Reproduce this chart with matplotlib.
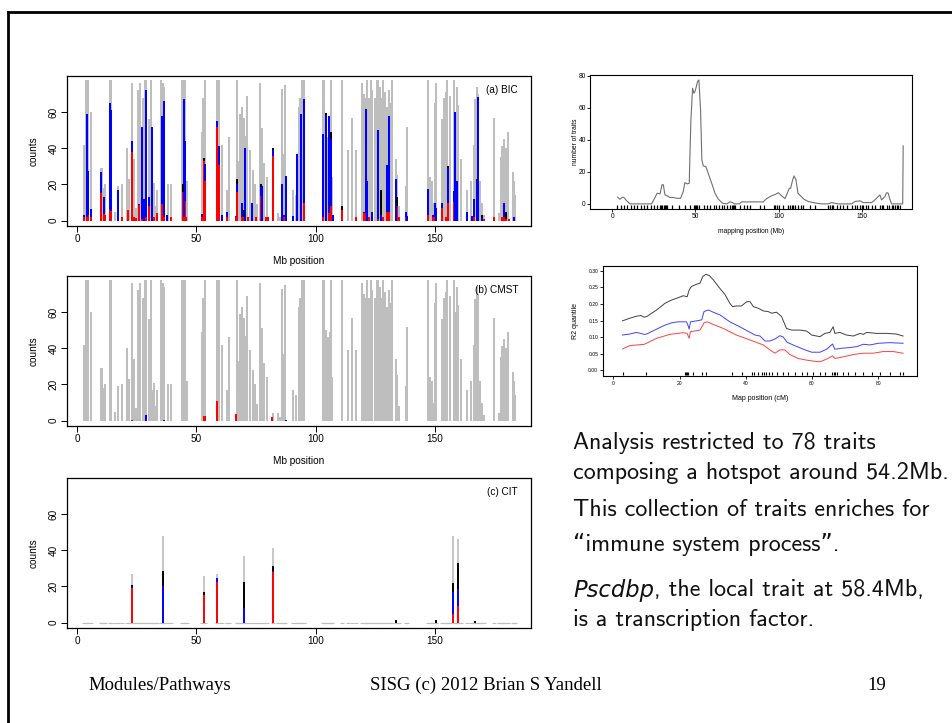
import matplotlib
matplotlib.use('Agg')
import matplotlib.pyplot as plt
from matplotlib.lines import Line2D
import numpy as np

# ---------------- data ----------------
# total counts (grey bars) shared by panels (a) and (b)
grey_pos = [2.7, 3.8, 4.5, 5.6, 9.8, 10.5, 11.1, 11.8, 13.7, 14.3, 16.0, 17.1, 18.7, 21.0, 21.7,
            22.9, 23.6, 24.6, 25.5, 26.2, 26.4, 27.6, 28.3, 29.0, 29.9, 30.8, 31.5, 32.2, 32.9,
            33.6, 35.3, 36.0, 36.5, 38.2, 39.5, 44.1, 44.8, 45.3, 46.2, 52.5, 52.9, 53.6, 58.5,
            59.5, 60.9, 62.8, 63.7, 67.0, 67.7, 68.3, 69.3, 69.8, 70.5, 71.4, 72.5, 73.7, 74.6,
            75.4, 76.8, 77.4, 78.5, 79.5, 81.9, 84.4, 85.1, 85.9, 86.5, 87.3, 90.5, 91.7, 92.9,
            93.6, 94.4, 95.0, 103.0, 103.5, 104.5, 105.1, 105.8, 106.5, 106.9, 111.2, 113.6,
            115.3, 117.0, 119.6, 120.3, 121.2, 121.7, 122.4, 123.1, 123.8, 124.9, 125.6, 126.3,
            126.9, 127.6, 128.2, 129.0, 129.8, 130.7, 131.2, 131.9, 133.5, 134.2, 134.9, 137.8,
            138.5, 147.2, 147.9, 148.6, 149.3, 149.9, 150.4, 152.8, 153.8, 154.5, 155.2, 156.3,
            157.8, 158.5, 159.1, 159.8, 160.8, 163.3, 165.1, 166.4, 166.8, 167.5, 168.2, 168.9,
            169.7, 170.7, 174.8, 176.7, 177.6, 178.3, 179.1, 179.8, 180.5, 182.6, 183.3, 183.7]
grey_cnt = [42, 78, 78, 60, 29, 29, 18, 20, 78, 78, 5, 19, 20, 40, 23,
            76, 34, 7, 72, 76, 27, 68, 78, 78, 56, 78, 17, 21, 8,
            17, 78, 76, 74, 20, 20, 78, 78, 78, 22, 49, 68, 78, 78,
            78, 42, 17, 46, 78, 33, 59, 63, 57, 47, 69, 39, 28, 20,
            9, 76, 51, 32, 24, 4, 4, 2, 73, 37, 75, 17, 14, 63,
            68, 78, 78, 78, 78, 50, 46, 49, 78, 24, 78, 39,
            57, 39, 76, 70, 68, 78, 68, 78, 72, 68, 78, 78,
            74, 68, 78, 71, 63, 72, 65, 78, 34, 25, 8, 19,
            52, 78, 24, 22, 10, 65, 76, 56, 68, 71, 78, 69,
            78, 60, 74, 64, 34, 17, 22, 42, 67, 74, 70, 22,
            10, 3, 57, 4, 35, 41, 45, 40, 49, 27, 22, 14]

# panel (a) BIC: red / blue / black stacked segments
a_pos = [2.7, 4.1, 4.5, 5.6, 10.1, 11.1, 11.8, 13.6, 14.1, 17.1, 18.9, 21.1, 22.9, 23.6, 24.6,
         25.7, 27.0, 28.1, 28.8, 30.2, 31.3, 32.0, 33.6, 35.4, 36.2, 37.8, 39.5, 44.2, 44.8,
         45.3, 45.8, 52.5, 53.1, 53.7, 58.5, 59.5, 60.7, 62.8, 66.6, 66.9, 69.3, 69.8, 70.5,
         71.6, 73.3, 74.9, 77.0, 77.5, 79.1, 80.0, 81.9, 85.9, 86.5, 87.7, 90.5, 92.3, 93.7,
         94.9, 103.0, 104.2, 105.4, 106.3, 107.3, 111.2, 117.1, 120.1, 121.3, 121.7, 122.4,
         123.8, 126.2, 127.6, 128.2, 130.1, 130.8, 133.5, 134.2, 134.9, 137.8, 138.5, 147.2,
         149.3, 149.9, 150.4, 152.8, 154.5, 155.3, 157.8, 158.5, 159.1, 163.6, 165.4, 166.4,
         167.5, 168.0, 169.7, 170.5, 174.8, 178.3, 179.1, 179.8, 181.0, 183.3]
a_red = [2, 2, 3, 2, 15, 3.5, 3, 6, 5.5, 0, 2, 6, 38, 2, 1.5,
         8.5, 1, 0, 2, 8, 0, 2, 4, 9, 2, 0, 2, 16, 2,
         11, 2, 2, 33, 22, 52, 31, 0, 2, 2, 16, 2, 2, 0,
         2, 0, 2, 13.5, 0, 2, 2, 36, 0, 2, 0, 0, 0, 0,
         9.5, 2, 0, 4, 8, 0, 6, 2, 4, 4, 0, 2,
         0, 1, 0, 2, 5, 5, 0, 8, 2, 2, 0, 3,
         2, 2, 0, 7, 2, 10, 10.5, 0, 0, 0, 0, 2,
         0, 0, 0, 1, 2, 2, 2, 1, 1, 0]
a_blue = [1, 57, 24.5, 4.5, 12, 9.5, 0, 59, 55.5, 17, 0, 0, 6, 0, 0,
          0.5, 51, 12, 70, 5, 52, 0, 0, 49, 64, 2.5, 0, 0, 65.5,
          33, 0, 1.5, 0, 9.5, 3, 10, 3, 3, 0.5, 4.5, 7.5, 0, 40,
          0, 9.5, 0, 5, 19, 0, 0, 3, 20.5, 1, 24.5, 2.5, 37, 59,
          58, 46, 58.5, 54, 37, 3, 0, 0, 1, 57, 22, 0,
          5, 49, 3, 0, 25.7, 53, 23, 0, 0, 2.5, 2.5, 14.5,
          1, 8, 7, 3, 0, 19, 6, 60, 22, 5, 2.5, 10,
          22, 68.5, 1.5, 0, 0, 0, 8, 0, 0, 2]
a_black = [0, 0, 0, 0, 0, 0, 0, 0, 0, 0, 0, 0, 0, 0, 0,
           0, 0, 0, 0, 0, 0, 0, 0, 0, 0, 0.8, 0, 4, 0,
           0, 0, 0, 1.5, 0, 0, 0, 0, 0, 0, 2.5, 0, 4, 0,
           0, 0, 0, 1.5, 0, 0, 0, 1, 0, 0, 0, 0, 0, 0,
           0, 0, 1, 0, 4, 0, 2, 0, 0, 1, 0, 0,
           0, 0, 14, 0, 0, 0, 0, 5, 0, 0, 0, 0,
           0, 0, 0, 0, 0, 1, 0, 0, 0, 0, 0, 0,
           1, 0, 1.5, 0, 0, 0, 0, 3.5, 0, 0]

# panel (b) CMST
b_pos = [22.9, 29.0, 36.4, 53.2, 53.6, 58.5, 66.7, 81.7, 87.7]
b_red = [0.5, 0, 0, 2.5, 2.5, 11, 3.5, 2, 0]
b_blue = [0, 3, 0.5, 0, 0, 0, 0, 0, 0.5]
b_black = [0, 0, 0, 0, 0, 0, 0, 0, 0]

# panel (c) CIT
c_grey_pos = [22.9, 36.0, 53.1, 58.5, 69.8, 81.9, 157.7, 159.5]
c_grey_cnt = [27, 48, 26, 27, 37, 41, 48, 46]
c_pos = [22.9, 36.0, 53.1, 58.5, 69.8, 81.9, 157.7, 159.5, 133.5, 150.4, 166.8]
c_red = [19, 0, 15, 22.5, 0, 28, 4.5, 9, 0, 0, 0]
c_blue = [0.5, 20, 0, 2, 8, 0.5, 12.5, 9.5, 0, 0, 0]
c_black = [1.5, 8.5, 2, 0, 14.5, 3, 5, 14.5, 1.5, 1.5, 1]

# top-right: number of traits vs mapping position
hs_pos = [3.2, 4.6, 6.2, 7.0, 8.6, 10.6, 23.7, 25.7, 27.0, 28.7, 29.9, 30.7, 31.7, 33.1, 34.7,
          36.7, 38.7, 41.1, 42.7, 43.7, 45.1, 46.3, 46.7, 47.3, 48.3, 49.1, 49.7, 50.3, 51.3,
          52.1, 53.1, 53.9, 54.7, 56.3, 57.7, 59.8, 61.8, 63.8, 66.4, 68.8, 70.8, 72.4, 73.4,
          76.4, 77.8, 82.8, 88.8, 90.8, 92.8, 95.8, 97.9, 99.9, 101.9, 103.9, 105.3, 106.5,
          107.3, 108.5, 109.3, 110.5, 111.7, 113.3, 115.3, 117.9, 120.9, 122.9, 125.9, 129.9,
          131.9, 134.0, 136.0, 144.0, 146.0, 149.0, 151.0, 156.0, 158.0, 160.0, 161.0, 162.0,
          164.0, 165.0, 166.0, 167.0, 168.0, 174.0, 174.7, 175.0]
hs_cnt = [4.2, 2.9, 4.2, 4.0, 2.0, 0, 0, 4, 6.7, 6.3, 11.9, 12, 5.6, 5, 4,
          4, 3.5, 3.5, 7.7, 13.3, 12.5, 12.9, 29.6, 52.5, 72.3, 69.2, 70.2, 72.3, 76.5,
          77.5, 58.8, 27.5, 23.8, 23.3, 19.2, 12.9, 6.7, 2.9, 0.4, 0, 1.25, 0.8, 0,
          0, 1.25, 1.25, 1.25, 1.25, 3.3, 5, 5.8, 7, 5, 3.3, 6.7, 9.8,
          9.8, 15, 17.5, 15, 6.7, 5, 2.9, 1.5, 0.8, 0.4, 0, 0,
          0.8, 0.4, 0, 0, 1.5, 1.9, 0.8, 0.8, 2.5, 4.6, 5.6, 2.5,
          4.6, 7, 6.7, 2.9, 0, 0, 0, 36.3]
hs_rug = [3, 5, 7, 9, 11, 13, 15, 17, 19, 21, 23, 25, 27, 28.5, 29.5, 30.2, 31, 31.8, 32.5, 33.2,
          36, 40, 44, 47, 49, 49.8, 50.5, 51.2, 52, 55, 57, 59, 61, 62.5, 64, 66, 67.5, 69,
          71, 71.8, 72.5, 73.2, 74, 77, 79, 81, 83, 89, 91, 97, 98, 99, 100, 103, 106, 107,
          108, 109, 110, 112, 113.5, 115, 119, 122, 130, 131, 132, 133, 135, 137, 139, 141,
          144, 146, 147.5, 149, 150, 151, 152.5, 154, 156, 158, 161, 162, 163, 165, 166.5,
          168, 169, 170, 171, 172, 173]

# bottom-right: R2 quantiles vs map position
q_cm_k = [2.8, 5.0, 7.0, 8.3, 9.4, 10.1, 13.1, 15.6, 17.6, 19.6, 21.1, 22.3, 22.9, 23.6, 25.2,
          26.2, 27.0, 28.0, 29.0, 30.2, 32.2, 33.7, 35.2, 36.0, 37.2, 38.7, 40.3, 41.3, 42.3,
          43.8, 45.3, 46.8, 47.8, 49.3, 50.8, 52.3, 53.8, 56.4, 58.4, 59.9, 61.4, 62.4, 63.9,
          65.4, 66.4, 66.9, 68.4, 70.4, 72.5, 74.5, 75.5, 76.5, 79.5, 82.5, 85.5, 87.5]
q_hi = [0.149, 0.157, 0.163, 0.165, 0.160, 0.162, 0.182, 0.202, 0.212, 0.219, 0.225, 0.222,
        0.242, 0.253, 0.260, 0.263, 0.283, 0.290, 0.286, 0.273, 0.247, 0.229, 0.202, 0.192,
        0.194, 0.194, 0.207, 0.207, 0.192, 0.187, 0.179, 0.177, 0.172, 0.175, 0.162, 0.126,
        0.121, 0.121, 0.118, 0.106, 0.103, 0.101, 0.111, 0.114, 0.131, 0.111, 0.114, 0.106,
        0.103, 0.111, 0.108, 0.114, 0.111, 0.111, 0.109, 0.103]
q_cm_b = [2.8, 5.0, 7.0, 9.4, 10.1, 13.1, 15.6, 17.6, 19.6, 22.1, 22.6, 22.9, 23.3, 25.2, 26.7,
          27.4, 28.7, 30.2, 32.2, 35.2, 38.2, 41.3, 42.8, 44.3, 45.8, 47.3, 48.8, 50.3, 51.3,
          52.5, 54.3, 57.4, 59.9, 62.4, 64.4, 66.2, 66.9, 68.9, 71.4, 73.5, 75.5, 77.5, 80.0,
          83.5, 87.5]
q_mid = [0.106, 0.109, 0.114, 0.108, 0.109, 0.124, 0.136, 0.143, 0.146, 0.146, 0.134, 0.124,
         0.146, 0.149, 0.152, 0.177, 0.182, 0.175, 0.167, 0.146, 0.131, 0.114, 0.106, 0.103,
         0.088, 0.088, 0.094, 0.104, 0.100, 0.084, 0.076, 0.063, 0.054, 0.054, 0.063, 0.079,
         0.063, 0.066, 0.068, 0.071, 0.078, 0.076, 0.081, 0.083, 0.081]
q_cm_r = [2.8, 5.0, 9.4, 13.1, 17.1, 21.1, 22.3, 22.9, 23.3, 26.2, 27.4, 28.4, 30.2, 33.2,
          37.2, 41.3, 45.3, 47.3, 48.8, 50.3, 51.8, 53.3, 55.8, 58.4, 60.4, 62.4, 64.4, 66.2,
          66.9, 69.4, 72.5, 75.5, 78.5, 81.5, 84.5, 87.5]
q_lo = [0.064, 0.074, 0.078, 0.096, 0.108, 0.113, 0.111, 0.096, 0.116, 0.121, 0.143, 0.146,
        0.138, 0.126, 0.106, 0.091, 0.076, 0.061, 0.051, 0.061, 0.061, 0.047, 0.035, 0.030,
        0.027, 0.025, 0.033, 0.043, 0.035, 0.040, 0.047, 0.051, 0.051, 0.056, 0.056, 0.051]
q_rug = [3, 10, 21.6, 22, 22.3, 22.6, 24, 26.7, 28, 35.7, 39, 41.8, 42.5, 43.8, 44.8, 45.5,
         46.2, 47, 47.8, 49.3, 51.3, 52.8, 54.8, 56.9, 58.4, 60.4, 62.4, 64, 66, 66.5, 67,
         67.4, 69.4, 71, 73, 75.5, 78, 80.5, 83.5, 86.5, 87.5]

# slide text
text_lines = ["Analysis restricted to 78 traits", "composing a hotspot around 54.2Mb.",
              "This collection of traits enriches for", "\u201cimmune system process\u201d."]
italic_word = "Pscdbp"
after_italic = ", the local trait at 58.4Mb,"
last_line = "is a transcription factor."
footer = ["Modules/Pathways", "SISG (c) 2012 Brian S Yandell", "19"]

# ---------------- figure ----------------
W, H = 952, 723
fig = plt.figure(figsize=(W / 100, H / 100), dpi=100)
fig.patch.set_facecolor('white')

def ax_px(x0, y0, x1, y1):
    return fig.add_axes([x0 / W, 1 - y1 / H, (x1 - x0) / W, (y1 - y0) / H])

RF = 'Liberation Sans'
FS_MAIN = 7.2

def stacked(ax, pos, red, blue, black, lw=1.45):
    pos = np.asarray(pos, float); r = np.asarray(red, float)
    b = np.asarray(blue, float); k = np.asarray(black, float)
    for lo, hi, col in [(0 * r, r, 'red'), (r, r + b, 'blue'), (r + b, r + b + k, 'black')]:
        m = hi > lo
        lc = ax.vlines(pos[m], lo[m], hi[m], color=col, lw=lw)
        lc.set_capstyle('butt')

def rstyle_main(ax, label, xlabel=True):
    ax.set_xlim(-4.3, 190.3)
    ax.set_ylim(-3.0, 80.0)
    ax.set_xticks([0, 50, 100, 150])
    ax.set_yticks([0, 20, 40, 60])
    ax.tick_params(direction='out', length=4, width=0.7, labelsize=FS_MAIN, pad=2, colors='black')
    for lab in ax.get_yticklabels():
        lab.set_rotation(90); lab.set_va('center'); lab.set_family(RF)
    for lab in ax.get_xticklabels():
        lab.set_family(RF)
    for s in ax.spines.values():
        s.set_linewidth(0.9)
    ax.text(-0.073, 0.5, 'counts', rotation=90, transform=ax.transAxes, ha='center',
            va='center', fontsize=FS_MAIN, family=RF)
    if xlabel:
        ax.text(0.5, -0.233, 'Mb position', transform=ax.transAxes, ha='center',
                va='center', fontsize=FS_MAIN, family=RF)
    ax.text(0.972, 0.905, label, transform=ax.transAxes, ha='right', va='center',
            fontsize=FS_MAIN, family=RF)

GREY = '#bebebe'

# panel (a)
axa = ax_px(67, 76, 531, 226)
lc = axa.vlines(grey_pos, 0, grey_cnt, color=GREY, lw=1.45); lc.set_capstyle('butt')
stacked(axa, a_pos, a_red, a_blue, a_black)
rstyle_main(axa, '(a) BIC')

# panel (b)
axb = ax_px(67, 276, 531, 426)
lc = axb.vlines(grey_pos, 0, grey_cnt, color=GREY, lw=1.45); lc.set_capstyle('butt')
stacked(axb, b_pos, b_red, b_blue, b_black)
rstyle_main(axb, '(b) CMST')

# panel (c)
axc = ax_px(67, 478, 531, 628)
axc.scatter(grey_pos, np.zeros(len(grey_pos)), marker='_', s=6, linewidths=0.8, color=GREY)
lc = axc.vlines(c_grey_pos, 0, c_grey_cnt, color=GREY, lw=1.2); lc.set_capstyle('butt')
stacked(axc, c_pos, c_red, c_blue, c_black, lw=1.4)
rstyle_main(axc, '(c) CIT', xlabel=False)

# top-right panel
axt = ax_px(590, 75, 912, 209)
axt.plot(hs_pos, hs_cnt, color='#707070', lw=0.8)
axt.vlines(hs_rug, -3.2, -1.0, color='black', lw=0.9)
axt.set_xlim(-13.4, 180.3); axt.set_ylim(-3.2, 80.6)
axt.set_xticks([0, 50, 100, 150]); axt.set_yticks([0, 20, 40, 60, 80])
axt.tick_params(direction='out', length=2.0, width=0.6, labelsize=4.8, pad=1.0)
for lab in axt.get_xticklabels() + axt.get_yticklabels():
    lab.set_family(RF)
for s in axt.spines.values():
    s.set_linewidth(0.8)
axt.text(-0.045, 0.5, 'number of traits', rotation=90, transform=axt.transAxes,
         ha='center', va='center', fontsize=4.8, family=RF)
axt.text(0.5, -0.17, 'mapping position (Mb)', transform=axt.transAxes, ha='center',
         va='center', fontsize=4.8, family=RF)

# bottom-right panel
axq = ax_px(603, 266, 917, 376)
axq.plot(q_cm_k, q_hi, color='#404040', lw=0.7)
axq.plot(q_cm_b, q_mid, color='#4040ff', lw=0.7)
axq.plot(q_cm_r, q_lo, color='#ff4040', lw=0.7)
axq.vlines(q_rug, -0.016, -0.006, color='black', lw=0.8)
axq.set_xlim(-3.1, 91.7); axq.set_ylim(-0.018, 0.315)
axq.set_xticks([0, 20, 40, 60, 80]); axq.set_yticks([0, 0.05, 0.10, 0.15, 0.20, 0.25, 0.30])
axq.set_yticklabels(['0.00', '0.05', '0.10', '0.15', '0.20', '0.25', '0.30'])
axq.tick_params(direction='out', length=2.0, width=0.6, labelsize=3.6, pad=1.5)
for lab in axq.get_xticklabels() + axq.get_yticklabels():
    lab.set_family(RF)
for s in axq.spines.values():
    s.set_linewidth(0.8)
axq.text(-0.089, 0.5, 'R2 quantile', rotation=90, transform=axq.transAxes,
         ha='center', va='center', fontsize=5, family=RF)
axq.text(0.5, -0.209, 'Map position (cM)', transform=axq.transAxes, ha='center',
         va='center', fontsize=5, family=RF)

# slide frame
fig.add_artist(Line2D([8 / W, 8 / W], [0, 1 - 12 / H], transform=fig.transFigure,
                      color='black', lw=2.0, solid_capstyle='projecting'))
fig.add_artist(Line2D([8 / W, 1.0], [1 - 12 / H, 1 - 12 / H], transform=fig.transFigure,
                      color='black', lw=2.0, solid_capstyle='projecting'))

# right-hand text
TF = ['cmss10', 'DejaVu Sans']
fs = 17.3
tx = 573 / W
ys = [443, 473, 510, 545]
for s, y in zip(text_lines, ys):
    fig.text(tx, 1 - y / H, s, fontsize=fs, family=TF, ha='left', va='center', color='#111111')
t_it = fig.text(tx, 1 - 590 / H, italic_word, fontsize=fs - 1.0, family='DejaVu Sans',
                style='oblique', ha='left', va='center', color='#111111')
fig.canvas.draw()
bb = t_it.get_window_extent()
fig.text(bb.x1 / W, 1 - 590 / H, after_italic, fontsize=fs, family=TF, ha='left',
         va='center', color='#111111')
fig.text(tx, 1 - 620 / H, last_line, fontsize=fs, family=TF, ha='left', va='center',
         color='#111111')

# footer
SF = 'Liberation Serif'
fig.text(88 / W, 1 - 685 / H, footer[0], fontsize=13.5, family=SF, ha='left', va='center')
fig.text(486 / W, 1 - 685 / H, footer[1], fontsize=13.5, family=SF, ha='center', va='center')
fig.text(877 / W, 1 - 685 / H, footer[2], fontsize=13.5, family=SF, ha='center', va='center')

fig.savefig('out.png', dpi=100)
